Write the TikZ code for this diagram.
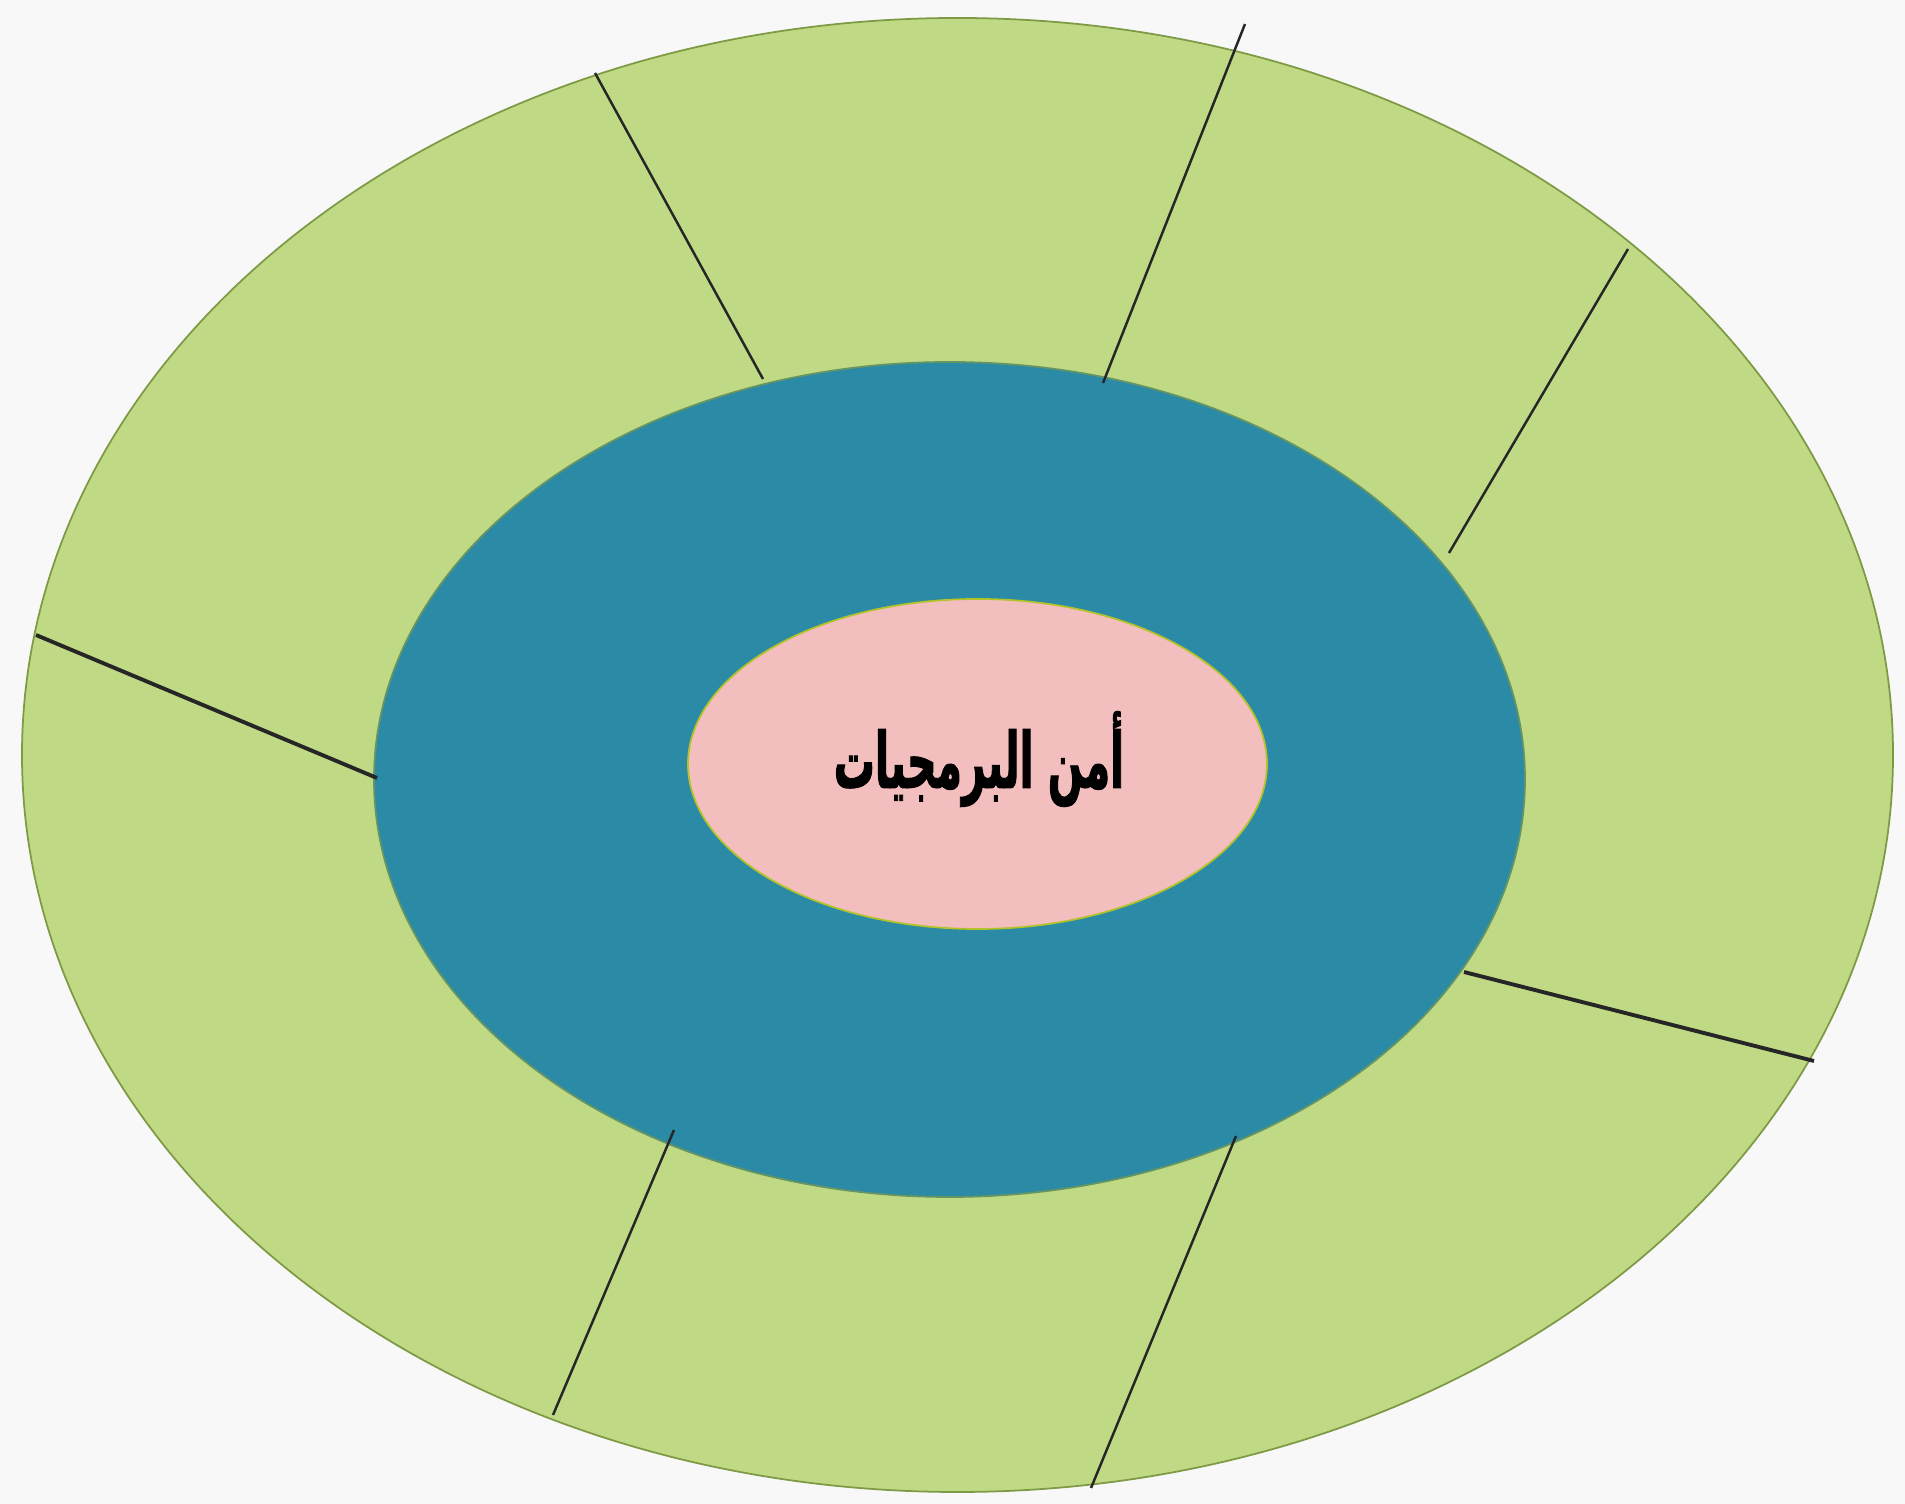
\documentclass[tikz,border=0pt]{standalone}
\usepackage{fontspec}
\TeXXeTstate=1
\newfontfamily\arabicfont[Script=Arabic, FakeStretch=0.53, FakeBold=1.2]{DejaVu Sans}
\usetikzlibrary{shapes.geometric}

\definecolor{bgpaper}{HTML}{F8F8F8}
\definecolor{ringgreen}{HTML}{C0D985}
\definecolor{ringedge}{HTML}{7E9A45}
\definecolor{coreteal}{HTML}{2B8AA6}
\definecolor{corepink}{HTML}{F3BEBE}

\begin{document}
\begin{tikzpicture}[
  ring/.style={ellipse, draw=ringedge, line width=0.5pt, inner sep=0pt, outer sep=0pt},
  divider/.style={draw=black!85, line width=0.7pt},
  title/.style={font=\arabicfont\bfseries\fontsize{22}{26}\selectfont, text=black},
]
\useasboundingbox (0,0) rectangle (19.05,15.04);
\fill[bgpaper] (0,0) rectangle (19.05,15.04);

% === THREE RINGS ===
\node[ring, fill=ringgreen, minimum width=18.71cm, minimum height=14.74cm] (outer) at (9.575, 7.49) {};
\node[ring, fill=coreteal, draw=ringedge!70!coreteal, minimum width=11.51cm, minimum height=8.35cm] (mid) at (9.495, 7.245) {};

% === DIVIDERS ===
\coordinate (o1) at (5.95, 14.31);  \coordinate (i1) at (7.63, 11.25);
\coordinate (o2) at (12.45, 14.80); \coordinate (i2) at (11.03, 11.21);
\coordinate (o3) at (16.28, 12.55); \coordinate (i3) at (14.49, 9.51);
\coordinate (o4) at (0.36, 8.69);   \coordinate (i4) at (3.77, 7.26);
\coordinate (o5) at (18.14, 4.43);  \coordinate (i5) at (14.64, 5.32);
\coordinate (o6) at (5.53, 0.89);   \coordinate (i6) at (6.74, 3.74);
\coordinate (o7) at (10.91, 0.16);  \coordinate (i7) at (12.36, 3.68);

\draw[divider] (o1) -- (i1);
\draw[divider] (o2) -- (i2);
\draw[divider] (o3) -- (i3);
\draw[divider, line width=1.1pt] (o4) -- (i4);
\draw[divider, line width=1.1pt] (o5) -- (i5);
\draw[divider] (o6) -- (i6);
\draw[divider] (o7) -- (i7);

% === CORE ===
\node[ring, fill=corepink, draw=ringedge!60!yellow, minimum width=5.79cm, minimum height=3.30cm] (core) at (9.775, 7.40) {};
\node[title] (label) at (9.79, 7.45) {\beginR أمن البرمجيات\endR};
\end{tikzpicture}
\end{document}
